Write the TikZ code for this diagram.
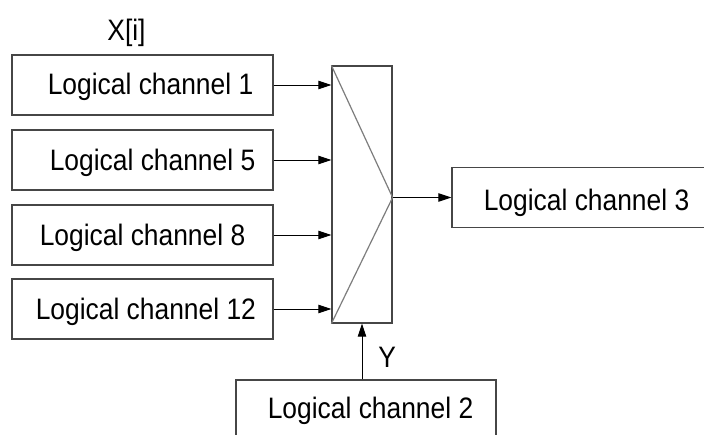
\documentclass[tikz,border=0pt]{standalone}
\usepackage{fontspec}
\usepackage{graphicx}
\setmainfont{Liberation Sans}
\usetikzlibrary{arrows.meta,positioning,calc}
\definecolor{frame}{RGB}{70,70,70}
\definecolor{wedge}{RGB}{125,125,125}
\newcommand{\tall}[1]{\scalebox{1}[1.12]{#1}}
\tikzset{
  >={Triangle[length=6.5pt,width=4.2pt]},
  chan/.style={draw=frame,line width=0.6pt,minimum width=#1,minimum height=30pt,inner sep=0pt},
  chan/.default=130.5pt,
  txt/.style={font=\fontsize{13.2}{15}\selectfont,inner sep=0pt,anchor=base west},
  feed/.style={->,line width=0.5pt,draw=black},
}
\begin{document}
\begin{tikzpicture}[x=0.5pt,y=-0.5pt]
  \clip (0,0) rectangle (704,434);
  \fill[white] (0,0) rectangle (704,434);
  % input channels
  \node[txt] (xi) at (107,40) {\tall{X[i]}};
  \node[chan] (c1) at (142.5,85) {};
  \node[txt] (t1) at ([shift={(36,9.3)}]c1.west) {\tall{Logical channel 1}};
  \node[chan] (c5) at (142.5,160) {};
  \node[txt] (t5) at ([shift={(38,10)}]c5.west) {\tall{Logical channel 5}};
  \node[chan] (c8) at (142.5,235) {};
  \node[txt] (t8) at ([shift={(28,10)}]c8.west) {\tall{Logical channel 8}};
  \node[chan] (c12) at (142.5,309) {};
  \node[txt] (t12) at ([shift={(24,10.5)}]c12.west) {\tall{Logical channel 12}};
  % multiplexer
  \node[draw=frame,line width=0.6pt,minimum width=30pt,minimum height=128.5pt,inner sep=0pt] (mux) at (362,194.5) {};
  % output and control channels
  \node[chan=135pt] (c3) at (587,197.5) {};
  \node[txt] (t3) at ([shift={(32,12.5)}]c3.west) {\tall{Logical channel 3}};
  \node[chan=130pt] (c2) at (366,410) {};
  \node[txt] (t2) at ([shift={(32,8)}]c2.west) {\tall{Logical channel 2}};
  \coordinate (tip) at (mux.east |- c3.west);
  \draw[wedge,line width=0.6pt] (mux.north west) -- (tip) -- (mux.south west);
  \foreach \c in {c1,c5,c8,c12}
    \draw[feed] (\c.east) -- (mux.west |- \c.east);
  \draw[feed] (tip) -- (c3.west);
  \draw[feed] (mux.south |- c2.north) -- (mux.south);
  \node[txt] (y) at (378,367) {\tall{Y}};
\end{tikzpicture}
\end{document}
